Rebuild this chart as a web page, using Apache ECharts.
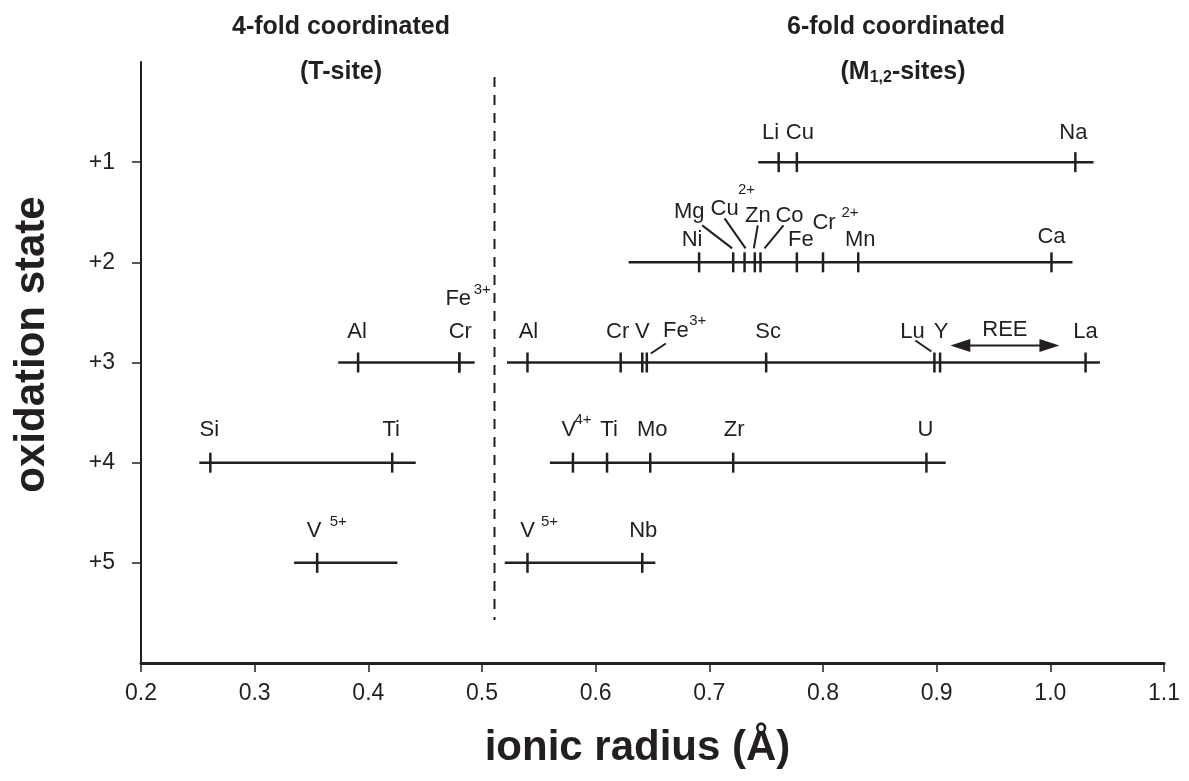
<!DOCTYPE html>
<html>
<head>
<meta charset="utf-8">
<script src="https://cdn.jsdelivr.net/npm/echarts@6/dist/echarts.min.js"></script>
<style>html,body{margin:0;padding:0;background:#fff}#chart{width:1189px;height:781px}</style>
</head>
<body>
<div id="chart"></div>
<script>
// ---------------- data ----------------
const xTickLabels = ['0.2','0.3','0.4','0.5','0.6','0.7','0.8','0.9','1.0','1.1'];
const yTickValues = [1, 2, 3, 4, 5];
const yTickLabels = ['+1', '+2', '+3', '+4', '+5'];

// radius ranges covered per oxidation state (first three: 4-fold, rest: 6-fold)
const segStates = [3, 4, 5, 1, 2, 3, 4, 5];
const segFrom   = [0.3735, 0.2513, 0.3347, 0.743, 0.629, 0.522, 0.5597, 0.520];
const segTo     = [0.4935, 0.4417, 0.4256, 1.038, 1.0195, 1.0436, 0.908, 0.6525];

// individual ions
const ionNames   = ['Al','Cr','Fe','Si','Ti','V',
                    'Li','Cu','Na',
                    'Ni','Mg','Cu','Zn','Co','Fe','Cr','Mn','Ca',
                    'Al','Cr','V','Fe','Sc','Lu','Y','La',
                    'V','Ti','Mo','Zr','U',
                    'V','Nb'];
const ionCharges = ['','','3+','','','5+',
                    '','','',
                    '','','2+','','','','2+','','',
                    '','','','3+','','','','',
                    '4+','','','','',
                    '5+',''];
const ionStates  = [3,3,3,4,4,5,
                    1,1,1,
                    2,2,2,2,2,2,2,2,2,
                    3,3,3,3,3,3,3,3,
                    4,4,4,4,4,
                    5,5];
const ionRadii   = [0.391,0.480,0.480,0.261,0.421,0.355,
                    0.761,0.777,1.022,
                    0.691,0.721,0.731,0.740,0.745,0.777,0.800,0.831,1.001,
                    0.540,0.622,0.641,0.645,0.750,0.898,0.903,1.031,
                    0.580,0.610,0.648,0.721,0.891,
                    0.540,0.641];

const reeRange = [0.912, 1.008];
const reeState = 3;
const reeName = 'REE';
const siteBoundary = 0.511;
const boundarySpan = [0.15, 5.57];
const siteTitles = ['4-fold coordinated', '6-fold coordinated'];
const siteSubtitles = [['(T-site)', '', ''], ['(M', '1,2', '-sites)']];
const xName = 'ionic radius (Å)';
const yName = 'oxidation state';

// ---------------- layout (pixel offsets from each tick) ----------------
const labelOffsets = [[-1,-31],[1,-31],[-1,-64],[-1,-33],[-1,-33],[-3,-32],
                      [-8,-29],[3,-29],[-2,-29],
                      [-7,-22],[-44,-50],[-20,-53],[3,-46],[29,-46],[4,-22],[1,-39],[2,-22],[0,-25],
                      [1,-31],[-3,-31],[0,-31],[29,-32],[2,-31],[-22,-31],[1,-31],[0,-31],
                      [-4,-33],[2,-33],[2,-33],[1,-33],[-1,-33],
                      [0,-32],[1,-32]];
const supOffsets = {2:[23,-73], 5:[21,-41], 11:[2,-72], 15:[27,-49], 21:[51,-42], 26:[10,-43], 31:[22,-41]};
const leaderOffsets = {10:[-31,-37,-1,-14], 11:[-20,-44,1,-14], 12:[3,-37,-1,-14], 13:[23,-37,4,-14],
                       21:[19,-19,4,-9], 23:[-19,-22,-3,-11]};

const INK = '#231f20';
const F = "'Liberation Sans', Arial, Helvetica, sans-serif";

const chart = echarts.init(document.getElementById('chart'), null, {renderer: 'canvas'});

const mctx = document.createElement('canvas').getContext('2d');
function tw(t, font) { mctx.font = font; return mctx.measureText(t).width; }

function subtitleGraphic(parts, cx, cy) {
  const mainFont = 'bold 25px ' + F, subFont = 'bold 16px ' + F;
  const w = [tw(parts[0], mainFont), tw(parts[1], subFont), tw(parts[2], mainFont)];
  let x = cx - (w[0] + w[1] + w[2]) / 2;
  const els = [];
  [[parts[0], 25, 0], [parts[1], 16, 6], [parts[2], 25, 0]].forEach((p, k) => {
    if (p[0]) els.push({type: 'text', x: x, y: cy + p[2], style: {text: p[0], fill: INK,
      font: 'bold ' + p[1] + 'px ' + F, align: 'left', verticalAlign: 'middle', textAlign: 'left', textVerticalAlign: 'middle'}});
    x += w[k];
  });
  return els;
}

const titleCenters = [341, 896];
const graphics = [];
siteTitles.forEach((t, k) => {
  graphics.push({type: 'text', x: titleCenters[k], y: 27, style: {text: t, fill: INK,
    font: 'bold 25px ' + F, align: 'center', verticalAlign: 'middle', textAlign: 'center', textVerticalAlign: 'middle'}});
  subtitleGraphic(siteSubtitles[k], titleCenters[k] + (k ? 7 : 0), 72).forEach(e => graphics.push(e));
});

function txt(x, y, text, size) {
  return {type: 'text', x: x, y: y, style: {text: text, fill: INK, fontSize: size, fontFamily: F,
    align: 'center', verticalAlign: 'middle'}};
}

const option = {
  animation: false,
  backgroundColor: '#fff',
  grid: {left: 141, right: 25, top: 62, bottom: 118},
  graphic: graphics,
  xAxis: {
    type: 'value', min: 0.2, max: 1.1, interval: 0.1,
    name: xName, nameLocation: 'middle', nameGap: 64,
    nameTextStyle: {fontSize: 42, fontWeight: 'bold', fontFamily: F, color: INK, padding: [0, 30, 0, 0]},
    axisLine: {show: true, onZero: false, lineStyle: {color: INK, width: 3}},
    axisTick: {show: true, length: 9, lineStyle: {color: INK, width: 1.5}},
    axisLabel: {fontSize: 23, fontFamily: F, color: INK, margin: 19,
      formatter: v => xTickLabels[Math.round((v - 0.2) / 0.1)]},
    splitLine: {show: false}
  },
  yAxis: {
    type: 'value', inverse: true, min: 0, max: 6, interval: 1,
    name: yName, nameLocation: 'middle', nameGap: 88, nameRotate: 90,
    nameTextStyle: {fontSize: 42, fontWeight: 'bold', fontFamily: F, color: INK, padding: [0, 0, 0, 36]},
    axisLine: {show: true, onZero: false, lineStyle: {color: INK, width: 2}},
    axisTick: {show: true, length: 9, customValues: yTickValues, lineStyle: {color: INK, width: 1.5}},
    axisLabel: {show: true, fontSize: 23, fontFamily: F, color: INK, margin: 26, customValues: yTickValues,
      formatter: v => yTickLabels[yTickValues.indexOf(v)] || ''},
    splitLine: {show: false}
  },
  series: [
    { // radius ranges
      type: 'custom', silent: true,
      data: segStates.map((s, i) => [segFrom[i], segTo[i], s]),
      encode: {x: [0, 1], y: 2},
      renderItem: (params, api) => {
        const a = api.coord([api.value(0), api.value(2)]);
        const b = api.coord([api.value(1), api.value(2)]);
        return {type: 'line', shape: {x1: a[0], y1: a[1], x2: b[0], y2: b[1]},
          style: {stroke: INK, lineWidth: 2.5}};
      }
    },
    { // ions
      type: 'custom', silent: true,
      data: ionRadii.map((r, i) => [r, ionStates[i]]),
      encode: {x: 0, y: 1},
      renderItem: (params, api) => {
        const i = params.dataIndex;
        const p = api.coord([api.value(0), api.value(1)]);
        const ch = [{type: 'line', shape: {x1: p[0], y1: p[1] - 10, x2: p[0], y2: p[1] + 10},
          style: {stroke: INK, lineWidth: 2.5}}];
        const lo = labelOffsets[i];
        ch.push(txt(p[0] + lo[0], p[1] + lo[1], ionNames[i], 22));
        if (ionCharges[i]) {
          const so = supOffsets[i];
          ch.push(txt(p[0] + so[0], p[1] + so[1], ionCharges[i], 15));
        }
        const ld = leaderOffsets[i];
        if (ld) ch.push({type: 'line', shape: {x1: p[0] + ld[0], y1: p[1] + ld[1], x2: p[0] + ld[2], y2: p[1] + ld[3]},
          style: {stroke: INK, lineWidth: 2}});
        return {type: 'group', children: ch};
      }
    },
    { // REE arrow
      type: 'custom', silent: true,
      data: [[reeRange[0], reeRange[1], reeState]],
      encode: {x: [0, 1], y: 2},
      renderItem: (params, api) => {
        const a = api.coord([api.value(0), api.value(2)]);
        const b = api.coord([api.value(1), api.value(2)]);
        const y = a[1] - 17, L = 20, H = 6.5;
        return {type: 'group', children: [
          {type: 'line', shape: {x1: a[0] + L - 2, y1: y, x2: b[0] - L + 2, y2: y}, style: {stroke: INK, lineWidth: 2}},
          {type: 'polygon', shape: {points: [[a[0], y], [a[0] + L, y - H], [a[0] + L, y + H]]}, style: {fill: INK}},
          {type: 'polygon', shape: {points: [[b[0], y], [b[0] - L, y - H], [b[0] - L, y + H]]}, style: {fill: INK}},
          txt((a[0] + b[0]) / 2, a[1] - 33, reeName, 22)
        ]};
      }
    },
    { // boundary between 4-fold and 6-fold sites
      type: 'custom', silent: true,
      data: [[siteBoundary, boundarySpan[0], boundarySpan[1]]],
      encode: {x: 0, y: [1, 2]},
      renderItem: (params, api) => {
        const a = api.coord([api.value(0), api.value(1)]);
        const b = api.coord([api.value(0), api.value(2)]);
        return {type: 'line', shape: {x1: a[0], y1: a[1], x2: b[0], y2: b[1]},
          style: {stroke: INK, lineWidth: 2, lineDash: [10, 8]}};
      }
    }
  ]
};
chart.setOption(option);
</script>
</body>
</html>
